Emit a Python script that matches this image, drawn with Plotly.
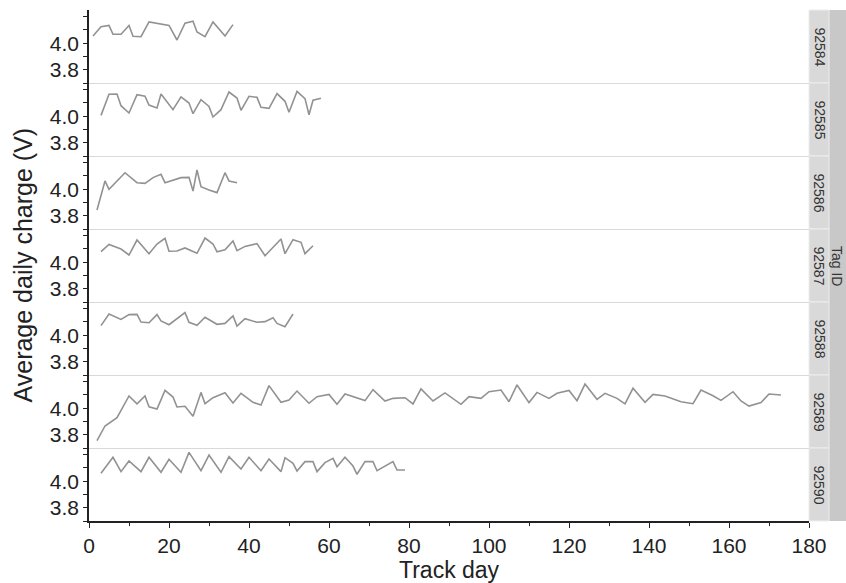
import plotly.graph_objects as go
from plotly.subplots import make_subplots

tag_ids = ["92584", "92585", "92586", "92587", "92588", "92589", "92590"]

day_92584 = [1, 3, 5, 6, 8, 10, 11, 13, 15, 20, 22, 24, 26, 27, 29, 31, 34, 36]
volt_92584 = [4.054, 4.124, 4.134, 4.067, 4.067, 4.134, 4.052, 4.049, 4.160, 4.134,
              4.024, 4.150, 4.165, 4.084, 4.049, 4.160, 4.054, 4.140]

day_92585 = [3, 5, 7, 8, 10, 12, 14, 15, 17, 18, 21, 23, 25, 26, 28, 30, 31, 33, 35, 37,
             38, 40, 42, 43, 45, 47, 49, 50, 52, 54, 55, 56, 58]
volt_92585 = [4.006, 4.165, 4.167, 4.079, 4.024, 4.162, 4.150, 4.084, 4.062, 4.167,
              4.049, 4.145, 4.099, 4.019, 4.124, 4.074, 3.994, 4.049, 4.182, 4.137,
              4.044, 4.150, 4.142, 4.067, 4.059, 4.170, 4.112, 4.029, 4.187, 4.132,
              4.011, 4.120, 4.135]

day_92586 = [2, 4, 5, 7, 9, 12, 14, 16, 18, 19, 23, 25, 26, 27, 28, 30, 32, 34, 35, 37]
volt_92586 = [3.843, 4.062, 3.999, 4.062, 4.124, 4.049, 4.044, 4.087, 4.112, 4.049,
              4.087, 4.089, 3.986, 4.145, 4.019, 3.994, 3.974, 4.124, 4.062, 4.049]

day_92587 = [3, 5, 8, 10, 12, 15, 17, 19, 20, 22, 24, 27, 29, 31, 32, 34, 36, 37, 39, 42,
             44, 46, 48, 49, 51, 53, 54, 56]
volt_92587 = [4.079, 4.134, 4.099, 4.054, 4.167, 4.064, 4.137, 4.180, 4.082, 4.084,
              4.107, 4.067, 4.182, 4.137, 4.079, 4.094, 4.160, 4.087, 4.119, 4.140,
              4.049, 4.112, 4.175, 4.064, 4.170, 4.150, 4.064, 4.124]

day_92588 = [3, 5, 8, 10, 12, 13, 15, 17, 18, 20, 24, 25, 27, 29, 32, 34, 36, 37, 39, 42,
             44, 46, 47, 49, 51]
volt_92588 = [4.072, 4.160, 4.119, 4.155, 4.157, 4.099, 4.094, 4.155, 4.107, 4.079,
              4.170, 4.097, 4.074, 4.135, 4.082, 4.089, 4.145, 4.069, 4.124, 4.097,
              4.102, 4.132, 4.089, 4.064, 4.160]

day_92589 = [2, 4, 7, 10, 12, 14, 15, 17, 19, 21, 22, 24, 26, 28, 29, 31, 34, 36, 38, 41,
             43, 45, 48, 50, 52, 55, 57, 60, 62, 64, 69, 71, 74, 76, 79, 81, 83, 86, 89,
             93, 95, 98, 100, 103, 105, 107, 110, 112, 115, 117, 120, 122, 124, 127, 129,
             132, 134, 136, 139, 141, 144, 148, 151, 153, 156, 158, 161, 163, 165, 168,
             170, 173]
volt_92589 = [3.755, 3.866, 3.929, 4.092, 4.032, 4.092, 4.011, 3.994, 4.134, 4.084,
              4.009, 4.014, 3.939, 4.119, 4.034, 4.079, 4.117, 4.039, 4.112, 4.044,
              4.024, 4.170, 4.044, 4.062, 4.129, 4.037, 4.087, 4.104, 4.029, 4.107,
              4.057, 4.140, 4.054, 4.074, 4.079, 4.032, 4.145, 4.054, 4.115,
              4.029, 4.087, 4.074, 4.124, 4.137, 4.049, 4.175, 4.042, 4.119, 4.074,
              4.112, 4.134, 4.057, 4.182, 4.067, 4.112, 4.074, 4.032, 4.150, 4.044,
              4.104, 4.092, 4.049, 4.034, 4.137, 4.094, 4.059, 4.124, 4.054, 4.016,
              4.042, 4.107, 4.099]

day_92590 = [3, 6, 8, 10, 13, 15, 18, 20, 23, 25, 28, 30, 33, 35, 38, 40, 43, 45, 48, 49,
             51, 52, 54, 56, 57, 59, 61, 62, 64, 66, 67, 69, 71, 72, 76, 77, 79]
volt_92590 = [4.059, 4.180, 4.072, 4.152, 4.072, 4.180, 4.067, 4.165, 4.067, 4.217,
              4.079, 4.197, 4.067, 4.185, 4.092, 4.180, 4.079, 4.167, 4.072, 4.177,
              4.135, 4.077, 4.147, 4.147, 4.072, 4.140, 4.172, 4.109, 4.180, 4.114,
              4.052, 4.147, 4.147, 4.079, 4.147, 4.084, 4.084]

days = [day_92584, day_92585, day_92586, day_92587, day_92588, day_92589, day_92590]
volts = [volt_92584, volt_92585, volt_92586, volt_92587, volt_92588, volt_92589, volt_92590]

x_ticks = [0, 20, 40, 60, 80, 100, 120, 140, 160, 180]
y_tickvals = [3.7, 3.8, 3.9, 4.0, 4.1, 4.2]
y_ticktext = ["", "3.8", "", "4.0", "", ""]

FONT = "Liberation Sans, Arial, sans-serif"
n = len(tag_ids)

fig = make_subplots(rows=n, cols=1, shared_xaxes=True, vertical_spacing=0)

for i in range(n):
    fig.add_trace(
        go.Scatter(x=days[i], y=volts[i], mode="lines",
                   line=dict(color="#929292", width=1.6),
                   showlegend=False, hoverinfo="x+y"),
        row=i + 1, col=1)

fig.update_yaxes(range=[3.7, 4.25], tickmode="array", tickvals=y_tickvals,
                 ticktext=y_ticktext, ticks="outside", ticklen=4, tickwidth=1.3,
                 tickcolor="#222", showline=True, linecolor="#222", linewidth=1.5,
                 showgrid=False, zeroline=False,
                 tickfont=dict(family=FONT, size=21, color="#222"))

fig.update_xaxes(range=[0, 180], showgrid=False, zeroline=False, showline=True,
                 linecolor="#d9d9d9", linewidth=1, ticks="")

fig.update_xaxes(row=n, col=1, linecolor="#222", linewidth=1.5, ticks="outside",
                 ticklen=5, tickwidth=1.3, tickcolor="#222",
                 tickmode="array", tickvals=x_ticks, showticklabels=True,
                 minor=dict(ticks="outside", ticklen=3, tickwidth=1.3,
                            tickcolor="#222", dtick=10, tick0=0),
                 tickfont=dict(family=FONT, size=21, color="#222"))

plot_w = 846 - 89 - 37
plot_h = 583 - 10 - 62
strip_x1 = 1 + 20 / plot_w
band_x1 = 1 + 37 / plot_w

shapes = [dict(type="rect", xref="paper", yref="paper", x0=strip_x1, x1=band_x1,
               y0=0, y1=1, fillcolor="#c8c8c8", line=dict(width=0), layer="below")]
annotations = []
for i, tag in enumerate(tag_ids):
    y1 = 1 - i / n
    y0 = 1 - (i + 1) / n
    shapes.append(dict(type="rect", xref="paper", yref="paper", x0=1.0, x1=strip_x1,
                       y0=y0, y1=y1, fillcolor="#d9d9d9",
                       line=dict(color="#ededed", width=1), layer="below"))
    annotations.append(dict(text=tag, xref="paper", yref="paper",
                            x=(1 + strip_x1) / 2, y=(y0 + y1) / 2, showarrow=False,
                            textangle=90, xanchor="center", yanchor="middle",
                            font=dict(family=FONT, size=14, color="#333")))

annotations.append(dict(text="Tag ID", xref="paper", yref="paper",
                        x=(strip_x1 + band_x1) / 2, y=0.5, showarrow=False,
                        textangle=90, xanchor="center", yanchor="middle",
                        font=dict(family=FONT, size=14, color="#333")))
annotations.append(dict(text="Average daily charge (V)", xref="paper", yref="paper",
                        x=(22 - 89) / plot_w, y=0.5, showarrow=False, textangle=-90,
                        xanchor="center", yanchor="middle",
                        font=dict(family=FONT, size=25, color="#222")))
annotations.append(dict(text="Track day", xref="paper", yref="paper",
                        x=0.5, y=(521 - 570) / plot_h, showarrow=False,
                        xanchor="center", yanchor="middle",
                        font=dict(family=FONT, size=23, color="#222")))

fig.update_layout(width=846, height=583,
                  margin=dict(l=89, r=37, t=10, b=62),
                  paper_bgcolor="white", plot_bgcolor="white",
                  shapes=shapes, annotations=annotations,
                  font=dict(family=FONT, color="#222"))

fig.write_html("out.html", config={"displayModeBar": False},
               post_script="document.body.style.margin='0';document.body.style.overflow='hidden';")
